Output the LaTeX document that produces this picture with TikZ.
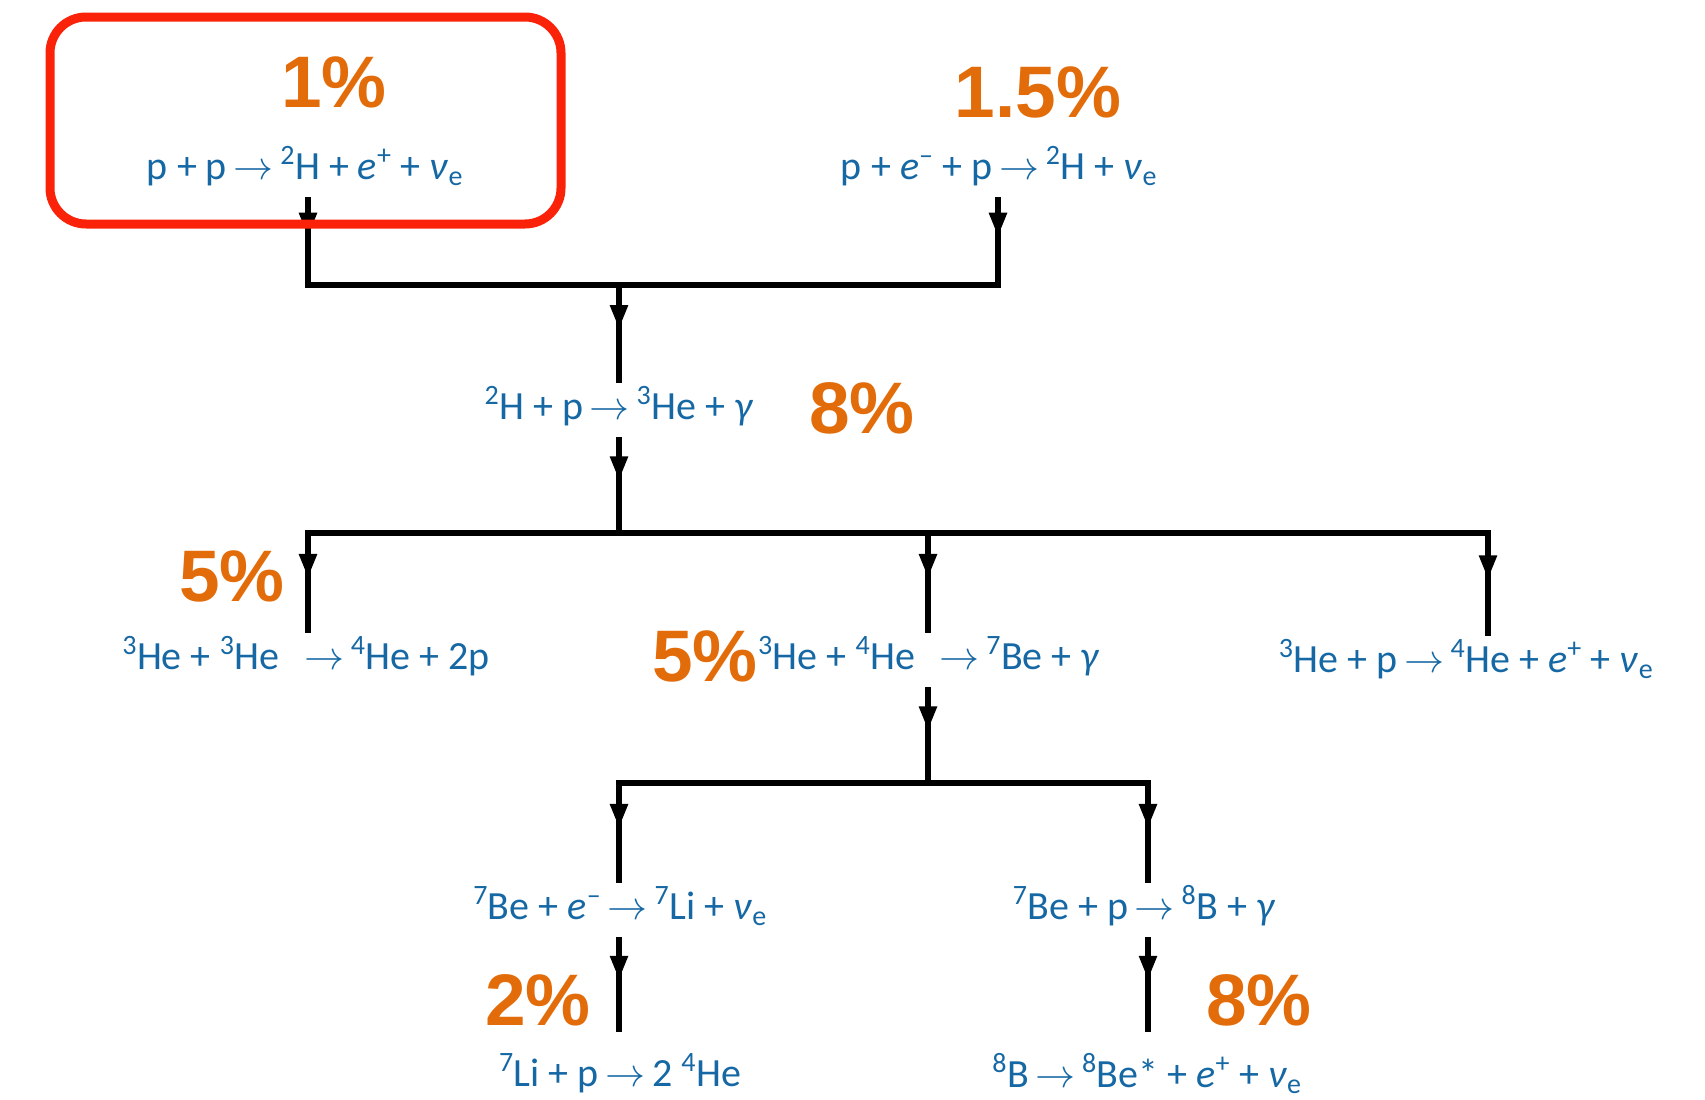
\documentclass[tikz,border=0pt]{standalone}
\usepackage{fix-cm}
\usepackage{fontspec}
\setmainfont{Carlito}
\newfontfamily\pctfont{Liberation Sans}
\usetikzlibrary{arrows.meta,decorations.markings}
\definecolor{eqblue}{RGB}{22,104,164}
\definecolor{pcto}{RGB}{227,108,10}
\definecolor{hlred}{RGB}{250,35,10}
\newcommand{\sps}[1]{\textsuperscript{#1}}
\newcommand{\nue}{\textit{ν}\textsubscript{e}}
\newcommand{\rarr}{\,$\rightarrow$\,}
\begin{document}
\begin{tikzpicture}[x=1pt,y=-1pt,
 eq/.style={text=eqblue, font=\fontsize{40}{44}\selectfont, inner xsep=0pt, inner ysep=6pt, text height=30pt, text depth=12pt, anchor=base},
 pct/.style={text=pcto, font=\pctfont\bfseries\fontsize{73}{80}\selectfont, inner sep=0pt},
 link/.style={line width=5.5pt, line cap=rect},
 flow/.style={line width=5.5pt, postaction=decorate, decoration={markings, mark=at position 0.45 with {\arrow{Triangle[width=17pt,length=24pt]}}}},
 hlbox/.style={draw=hlred, line width=9pt, rounded corners=36pt, minimum width=511pt, minimum height=207pt, inner sep=0pt}
]
\useasboundingbox (0,0) rectangle (1705,1100);

% equations
\node[eq] (r1) at (305,179) {p + p\rarr\sps{2}H + \textit{e}\sps{+} + \nue};
\node[eq] (r2) at (999,179) {p + \textit{e}\sps{–} + p\rarr\sps{2}H + \nue};
\node[eq] (r3) at (619,419) {\sps{2}H + p\rarr\sps{3}He + \textit{γ}};
\node[eq] (r4) at (306,669) {\sps{3}He + \sps{3}He \ \rarr\sps{4}He + 2p};
\node[eq] (r5) at (929,669) {\sps{3}He + \sps{4}He \ \rarr\sps{7}Be + \textit{γ}};
\node[eq] (r6) at (1466,672) {\sps{3}He + p\rarr\sps{4}He + \textit{e}\sps{+} + \nue};
\node[eq] (r7) at (620,919) {\sps{7}Be + \textit{e}\sps{–}\rarr\sps{7}Li + \nue};
\node[eq] (r8) at (1144,919) {\sps{7}Be + p\rarr\sps{8}B + \textit{γ}};
\node[eq] (r9) at (620,1086) {\sps{7}Li + p\rarr 2 \sps{4}He};
\node[eq] (r10) at (1147,1087) {\sps{8}B\rarr\sps{8}Be* + \textit{e}\sps{+} + \nue};

% percentages
\node[pct] (p1) at (334,82) {1\%};
\node[pct] (p15) at (1038,92) {1.5\%};
\node[pct] (p8a) at (862,408) {8\%};
\node[pct] (p5a) at (232,576) {5\%};
\node[pct] (p5b) at (705,656) {5\%};
\node[pct] (p2) at (538,1000) {2\%};
\node[pct] (p8b) at (1259,1000) {8\%};

% junctions
\coordinate (j1l) at (308,285);
\coordinate (j1r) at (998,285);
\coordinate (j1c) at (619,285);
\coordinate (j2l) at (308,533);
\coordinate (j2c) at (619,533);
\coordinate (j2m) at (928,533);
\coordinate (j2r) at (1488,533);
\coordinate (j3l) at (619,783);
\coordinate (j3c) at (928,783);
\coordinate (j3r) at (1148,783);

% connectors
\draw[flow] (r1.south -| j1l) -- (j1l);
\draw[flow] (r2.south -| j1r) -- (j1r);
\draw[link] (j1l) -- (j1r);
\draw[flow] (j1c) -- (r3.north -| j1c);
\draw[flow] (r3.south -| j2c) -- (j2c);
\draw[link] (j2l) -- (j2r);
\draw[flow] (j2l) -- (r4.north -| j2l);
\draw[flow] (j2m) -- (r5.north -| j2m);
\draw[flow] (j2r) -- (r6.north -| j2r);
\draw[flow] (r5.south -| j3c) -- (j3c);
\draw[link] (j3l) -- (j3r);
\draw[flow] (j3l) -- (r7.north -| j3l);
\draw[flow] (j3r) -- (r8.north -| j3r);
\draw[flow] (r7.south -| j3l) -- ([yshift=18pt]r9.north -| j3l);
\draw[flow] (r8.south -| j3r) -- ([yshift=19pt]r10.north -| j3r);

% highlight box
\node[hlbox] (hl) at (305.5,120.5) {};
\end{tikzpicture}
\end{document}
